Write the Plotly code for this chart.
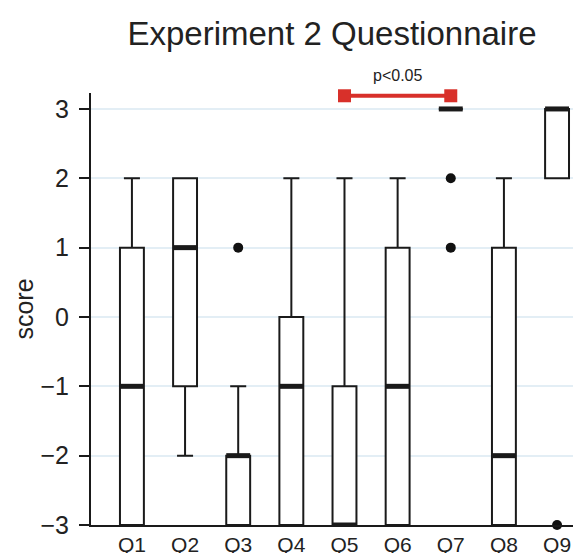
import plotly.graph_objects as go

categories = ["Q1", "Q2", "Q3", "Q4", "Q5", "Q6", "Q7", "Q8", "Q9"]
lower_whisker = [-3, -2, -3, -3, -3, -3, 3, -3, 2]
q1_vals = [-3, -1, -3, -3, -3, -3, 3, -3, 2]
median_vals = [-1, 1, -2, -1, -3, -1, 3, -2, 3]
q3_vals = [1, 2, -2, 0, -1, 1, 3, 1, 3]
upper_whisker = [2, 2, -1, 2, 2, 2, 3, 2, 3]
outlier_cats = ["Q3", "Q7", "Q7", "Q9"]
outlier_vals = [1, 2, 1, -3]
sig_pair = ["Q5", "Q7"]
sig_level = 3.19
sig_text = "p<0.05"

pos = list(range(len(categories)))
box_w = 0.45

fig = go.Figure()
fig.add_trace(go.Box(
    x=pos, q1=q1_vals, median=median_vals, q3=q3_vals,
    lowerfence=lower_whisker, upperfence=upper_whisker,
    width=box_w, whiskerwidth=0.67,
    fillcolor="white", line=dict(color="#1a1a1a", width=2),
    boxpoints=False, showlegend=False, hoverinfo="skip",
))

# thick median bars
mx, my = [], []
for p, m in zip(pos, median_vals):
    mx += [p - box_w / 2, p + box_w / 2, None]
    my += [m, m, None]
fig.add_trace(go.Scatter(x=mx, y=my, mode="lines",
                         line=dict(color="#1a1a1a", width=5),
                         showlegend=False, hoverinfo="skip", cliponaxis=False))

# outliers
fig.add_trace(go.Scatter(
    x=[categories.index(c) for c in outlier_cats], y=outlier_vals,
    mode="markers", marker=dict(color="#111111", size=10),
    showlegend=False, hoverinfo="skip", cliponaxis=False))

# significance bar
sx = [categories.index(c) for c in sig_pair]
fig.add_trace(go.Scatter(
    x=sx, y=[sig_level, sig_level], mode="lines+markers",
    line=dict(color="#d8302a", width=4),
    marker=dict(symbol="square", size=13, color="#d8302a"),
    showlegend=False, hoverinfo="skip", cliponaxis=False))
fig.add_annotation(x=sum(sx) / 2, y=sig_level, yshift=20, text=sig_text,
                   showarrow=False, font=dict(size=16, color="#222"))

fig.update_layout(
    width=573, height=553,
    margin=dict(l=91, r=0, t=93, b=28, autoexpand=False),
    paper_bgcolor="white", plot_bgcolor="white",
    font=dict(family="Liberation Sans, Arial, sans-serif", color="#222"),
    title=dict(text="Experiment 2 Questionnaire", x=0.5, xref="paper",
               y=0.94, yanchor="middle",
               font=dict(size=33, color="#222")),
    xaxis=dict(range=[-0.77, 8.30], tickvals=pos, ticktext=categories,
               showgrid=False, zeroline=False, showline=True,
               linecolor="#1a1a1a", linewidth=2, ticks="",
               tickfont=dict(size=21, color="#222"), automargin=False),
    yaxis=dict(range=[-3, 3.23], tickvals=[-3, -2, -1, 0, 1, 2, 3],
               ticktext=["\u22123", "\u22122", "\u22121", "0", "1", "2", "3"],
               showgrid=True, gridcolor="#e3eef5", gridwidth=2,
               zeroline=False, showline=True, linecolor="#1a1a1a", linewidth=2,
               ticks="outside", ticklen=10, tickwidth=2, tickcolor="#1a1a1a",
               ticklabelstandoff=5,
               tickfont=dict(size=25, color="#222"),
               title=dict(text="score", font=dict(size=25, color="#222"), standoff=0),
               automargin=False),
)

fig.write_html("out.html")
